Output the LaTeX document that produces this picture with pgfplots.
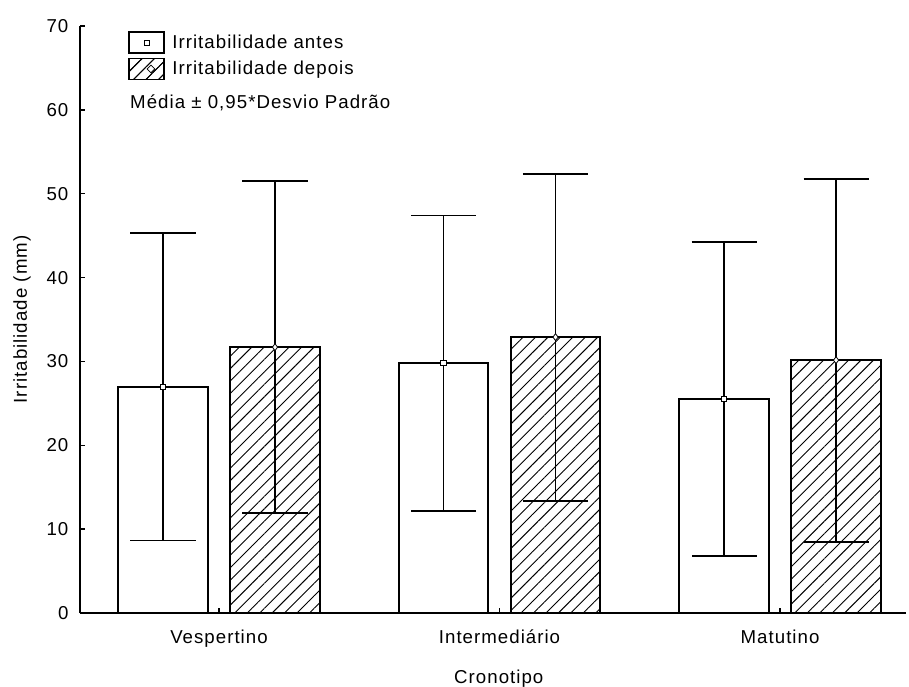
\documentclass[12pt,border=0pt]{standalone}
\usepackage{fontspec}
\setmainfont[LetterSpace=5.5]{Liberation Sans}
\usepackage{pgfplots}
\usepackage{pgfplotstable}
\pgfplotsset{compat=1.18}
\usetikzlibrary{patterns.meta,shapes.geometric}
\newcommand{\fs}{\fontsize{14pt}{16.5pt}\selectfont}
\pgfplotstableread{
x y e
0 27.0 18.35
1 29.8 17.6
2 25.5 18.7
}\antes
\pgfplotstableread{
x y e
0 31.7 19.8
1 32.9 19.5
2 30.15 21.65
}\depois
\begin{document}
\begin{tikzpicture}[font=\fs]
\useasboundingbox (0,0) rectangle (681.75pt,514.5pt);
\begin{axis}[
  at={(60pt,54.75pt)}, anchor=south west,
  scale only axis, width=619.5pt, height=440.25pt,
  xmin=-0.4955, xmax=2.449, ymin=0, ymax=70,
  axis lines=left, axis line style={-, line width=1.5pt},
  xtick={0,1,2}, xticklabels={Vespertino,Intermediário,Matutino},
  ytick={0,10,...,70},
  tick align=inside, major tick length=4pt, tick style={line width=1pt,black},
  /pgf/number format/assume math mode=true,
  tick label style={font=\fs},
  label style={font=\fs},
  xticklabel style={anchor=base, yshift=-22.5pt},
  yticklabel style={xshift=-4.5pt},
  xlabel={Cronotipo}, ylabel={Irritabilidade (mm)},
  xlabel style={at={(axis description cs:0.507,-0.1193)}, anchor=base},
  ylabel style={at={(axis description cs:-0.0702,0.5)}, anchor=center},
  legend style={font=\fs, at={(rel axis cs:0.058,0.9915)}, anchor=north west, draw=none, fill=none, inner sep=0pt, row sep=2.5pt,
    /tikz/every odd column/.append style={column sep=3.5pt}},
  legend cell align=left,
  clip=false,
]
\addplot[ybar, bar width=0.32, bar shift=0pt, fill=white, draw=black, line width=1.4pt,
  mark=square*, mark size=2pt, mark options={fill=white, line width=0.6pt},
  error bars/y dir=both, error bars/y explicit,
  error bars/error bar style={line width=1.4pt, black},
  error bars/error mark options={rotate=90, mark size=24.4pt, line width=1.4pt, black},
  legend image code/.code={
    \draw[fill=white,line width=1.4pt] (0pt,-7.9pt) rectangle (26.25pt,7.9pt);
    \draw[fill=white,line width=0.6pt] (11.1pt,-2pt) rectangle (15.1pt,2pt);}
] table[x expr=\thisrow{x}-0.1996, y=y, y error=e] {\antes};
\addlegendentry{Irritabilidade antes}
\addplot[ybar, bar width=0.32, bar shift=0pt, fill=white, draw=black, line width=1.4pt,
  postaction={pattern={Lines[angle=45,distance=6.6pt,line width=0.7pt]}},
  mark=diamond*, mark size=2.6pt, mark options={fill=white, line width=0.6pt},
  error bars/y dir=both, error bars/y explicit,
  error bars/error bar style={line width=1.4pt, black},
  error bars/error mark options={rotate=90, mark size=24.4pt, line width=1.4pt, black},
  legend image code/.code={
    \draw[fill=white,line width=1.4pt,postaction={pattern={Lines[angle=45,distance=6.6pt,line width=0.7pt]}}] (0pt,-7.9pt) rectangle (26.25pt,7.9pt);
    \node[diamond,draw,fill=white,line width=0.6pt,inner sep=0pt,minimum size=6pt] at (13.1pt,0pt) {};}
] table[x expr=\thisrow{x}+0.1996, y=y, y error=e] {\depois};
\addlegendentry{Irritabilidade depois}
\node[font=\fs,anchor=base west,inner sep=0pt] at (rel axis cs:0.0605,0.8603) {Média ± 0,95*Desvio Padrão};
\end{axis}
\end{tikzpicture}
\end{document}
